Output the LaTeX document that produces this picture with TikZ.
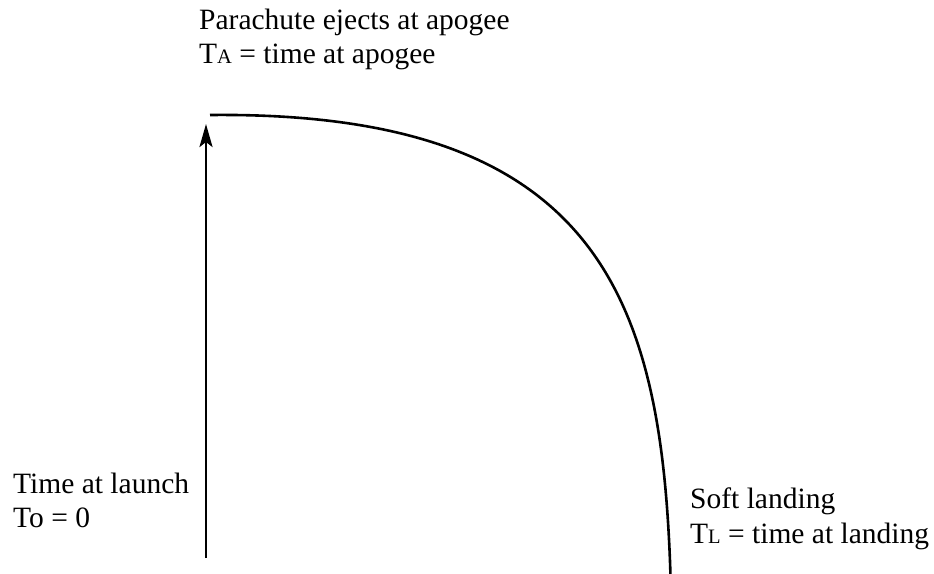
\documentclass[tikz,border=0pt]{standalone}
\usepackage{fontspec}
\setmainfont{Liberation Serif}
\usetikzlibrary{arrows.meta}
\newcommand{\lbl}{\fontsize{29.5}{34.5}\selectfont}
\newcommand{\smc}[1]{{\fontsize{20.5}{20.5}\selectfont #1}}
\begin{document}
\begin{tikzpicture}[x=1pt,y=-1pt,
  txt/.style={anchor=base west,inner sep=0pt,font=\lbl},
  path/.style={line width=2.6pt,black}]
\useasboundingbox (0,0) rectangle (934,573);
% text
\node[txt] (t1) at (199,29) {Parachute ejects at apogee};
\node[txt] (t2) at (199,63) {T\smc{A} = time at apogee};
\node[txt] (l1) at (13,493) {Time at launch};
\node[txt] (l2) at (13,527) {To = 0};
\node[txt] (s1) at (690,508) {Soft landing};
\node[txt] (s2) at (690,543) {T\smc{L} = time at landing};
% points
\coordinate (launch) at (206,558);
\coordinate (tip) at (206,124);
\coordinate (apex) at (210,115);
\coordinate (land) at (670.5,576);
% ascent arrow
\draw[path,-{Stealth[length=23pt,width=13pt,inset=5pt]}] (launch) -- (tip);
% descent curve
\draw[path] (apex) .. controls (600,111) and (662,300) .. (land);
\end{tikzpicture}
\end{document}
